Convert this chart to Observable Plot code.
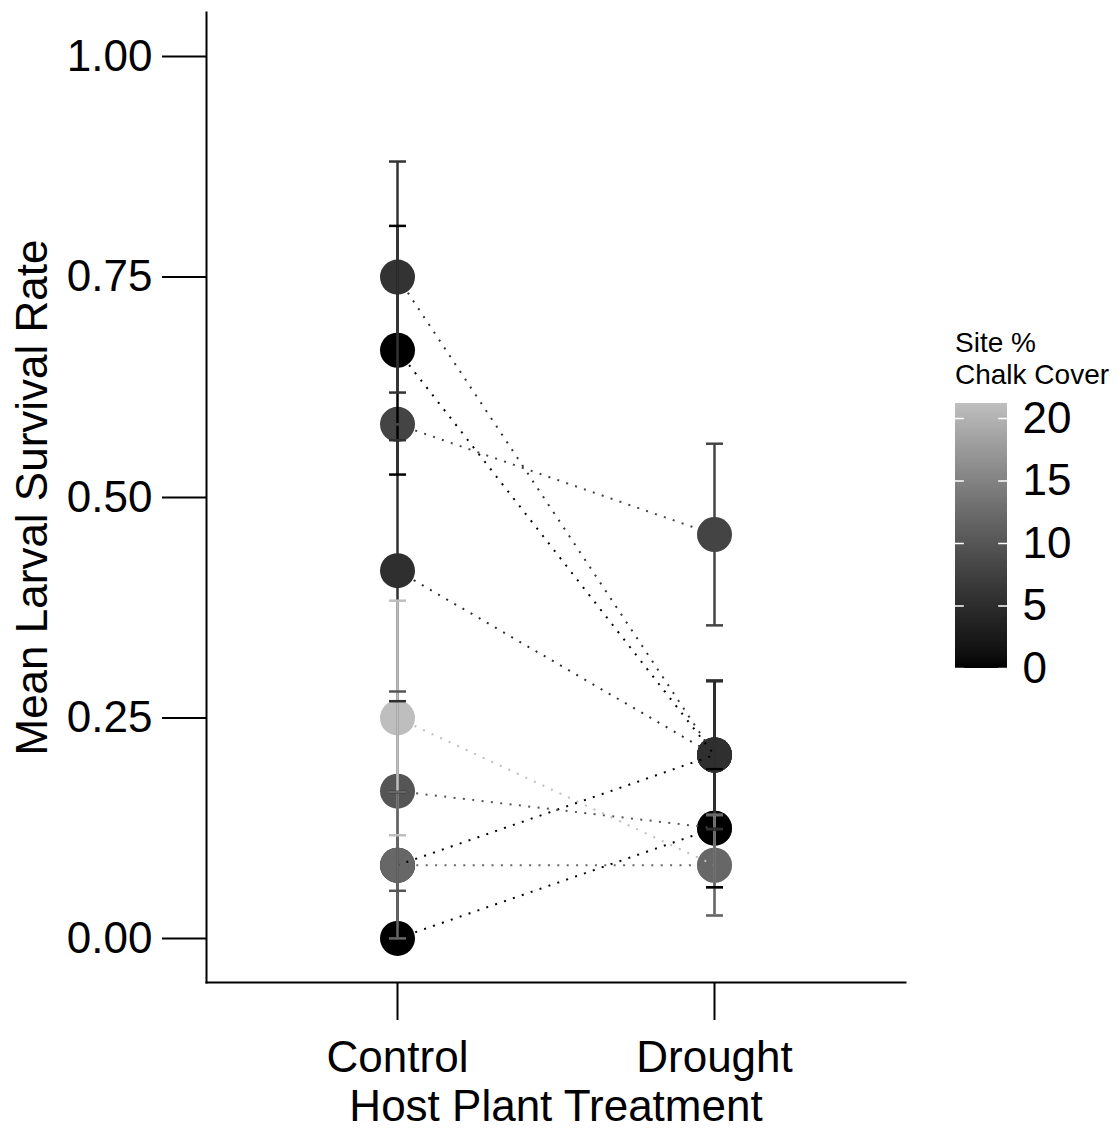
<!DOCTYPE html>
<html>
<head>
<meta charset="utf-8">
<script src="https://cdn.jsdelivr.net/npm/d3@7"></script>
<script src="https://cdn.jsdelivr.net/npm/@observablehq/plot@0.6"></script>
<style>
  body { margin: 0; background: #fff; font-family: "Liberation Sans", Arial, sans-serif; }
  #chart { position: relative; width: 1119px; height: 1128px; }
  #legend { position: absolute; left: 955px; top: 327px; width: 170px; }
  #legend .title { font-size: 28px; line-height: 32px; color: #000; white-space: nowrap; }
  #legend svg { display: block; max-width: none; }
</style>
</head>
<body>
<div id="chart"><div id="legend"><div class="title">Site %<br>Chalk Cover</div></div></div>
<script>
// Treatments on the x axis
const treatments = ["Control", "Drought"];

// One entry per site (drawing order)
const sites = ["Site 1", "Site 2", "Site 3", "Site 4", "Site 5", "Site 6", "Site 7", "Site 8", "Site 9"];
const chalkCover = [0, 0, 10, 0, 8, 5.8, 5.4, 21.2, 12];

// Mean larval survival and standard error per site and treatment
const controlMean = [0.667, 0.083, 0.167, 0.000, 0.583, 0.750, 0.417, 0.250, 0.083];
const controlSE   = [0.141, 0.083, 0.113, 0.000, 0.000, 0.131, 0.148, 0.133, 0.083];
const droughtMean = [0.208, 0.208, 0.125, 0.125, 0.458, 0.208, 0.208, 0.083, 0.083];
const droughtSE   = [0.084, 0.084, 0.067, 0.067, 0.103, 0.084, 0.084, 0.057, 0.057];

// Axis ticks
const yTicks = [0, 0.25, 0.5, 0.75, 1];
const legendTicks = [0, 5, 10, 15, 20];
const chalkMax = 21.2;

const rows = sites.flatMap((site, i) => [
  {site, treatment: "Control", mean: controlMean[i], se: controlSE[i], chalk: chalkCover[i]},
  {site, treatment: "Drought", mean: droughtMean[i], se: droughtSE[i], chalk: chalkCover[i]}
]);
const pairs = sites.map((site, i) => ({
  site, chalk: chalkCover[i], c: controlMean[i], d: droughtMean[i]
}));

const colorScale = {
  type: "linear",
  domain: [0, chalkMax],
  range: ["#000000", "#bebebe"],
  interpolate: d3.interpolateLab
};

// Horizontal cap used for the error bars
const capSymbol = {
  draw(context, size) {
    const w = Math.sqrt(size / Math.PI);
    context.moveTo(-w, 0);
    context.lineTo(w, 0);
  }
};

const font = "'Liberation Sans', Arial, sans-serif";

const chart = Plot.plot({
  width: 930,
  height: 1128,
  marginLeft: 206,
  marginRight: 25,
  marginTop: 12,
  marginBottom: 146,
  style: {fontFamily: font, background: "#fff", color: "#000", overflow: "visible"},
  x: {type: "point", domain: treatments, padding: 0.6},
  y: {domain: [-0.05, 1.05]},
  color: colorScale,
  marks: [
    Plot.frame({anchor: "left", strokeWidth: 2}),
    Plot.frame({anchor: "bottom", strokeWidth: 2}),
    Plot.axisY({
      ticks: yTicks, tickFormat: d3.format(".2f"), tickSize: 44, tickPadding: 10,
      fontSize: 44, strokeWidth: 2,
      label: "Mean Larval Survival Rate", labelAnchor: "center", labelArrow: "none", labelOffset: 191
    }),
    Plot.axisX({
      tickSize: 38, tickPadding: 20, fontSize: 44, strokeWidth: 2,
      label: "Host Plant Treatment", labelAnchor: "center", labelArrow: "none", labelOffset: 138
    }),
    // site means
    Plot.dot(rows, {x: "treatment", y: "mean", r: 17.5, fill: "chalk", stroke: "none"}),
    // dotted lines joining each site's two treatments
    Plot.link(pairs, {
      x1: () => "Control", x2: () => "Drought", y1: "c", y2: "d",
      stroke: "chalk", strokeWidth: 2, strokeDasharray: "2,7.4"
    }),
    // error bars (mean ± SE)
    Plot.ruleX(rows, {x: "treatment", y1: d => d.mean - d.se, y2: d => d.mean + d.se, stroke: "chalk", strokeWidth: 2.5}),
    Plot.dot(rows, {x: "treatment", y: d => d.mean + d.se, symbol: capSymbol, r: 8.5, stroke: "chalk", fill: "none", strokeWidth: 2.5}),
    Plot.dot(rows, {x: "treatment", y: d => d.mean - d.se, symbol: capSymbol, r: 8.5, stroke: "chalk", fill: "none", strokeWidth: 2.5})
  ]
});
document.getElementById("chart").prepend(chart);

// Vertical colour bar legend
const ramp = d3.range(0, chalkMax, 0.1);
const legend = Plot.plot({
  width: 170,
  height: 300,
  marginLeft: 0,
  marginRight: 118,
  marginTop: 12,
  marginBottom: 23,
  style: {fontFamily: font, background: "transparent", color: "#000", overflow: "visible", maxWidth: "none"},
  x: {domain: [0, 1], axis: null},
  y: {domain: [0, chalkMax]},
  color: colorScale,
  marks: [
    Plot.rect(ramp, {x1: 0, x2: 1, y1: d => d, y2: d => Math.min(d + 0.12, chalkMax), fill: d => d + 0.05, shapeRendering: "crispEdges"}),
    Plot.ruleY(legendTicks, {x1: 0, x2: 0.17, stroke: "white", strokeWidth: 1.5}),
    Plot.ruleY(legendTicks, {x1: 0.83, x2: 1, stroke: "white", strokeWidth: 1.5}),
    Plot.axisY({anchor: "right", ticks: legendTicks, tickSize: 0, tickPadding: 15, fontSize: 44, label: null})
  ]
});
document.getElementById("legend").append(legend);
</script>
</body>
</html>
